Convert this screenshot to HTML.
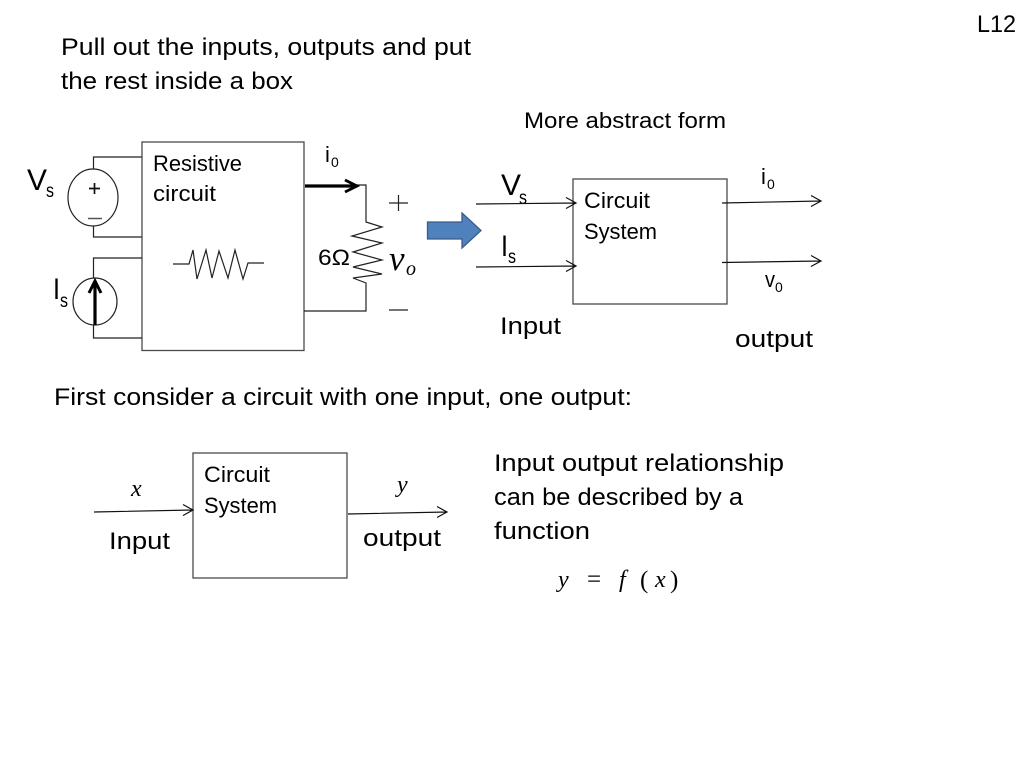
<!DOCTYPE html>
<html><head><meta charset="utf-8"><style>
html,body{margin:0;padding:0;background:#fff}
svg{display:block}
text{font-family:"Liberation Sans",sans-serif;fill:#000}
.m{font-family:"Liberation Serif",serif;font-style:italic}
.r{font-family:"Liberation Serif",serif}
</style></head><body>
<svg width="1024" height="768" viewBox="0 0 1024 768" xmlns="http://www.w3.org/2000/svg">
<rect width="1024" height="768" fill="#fff"/>
<!-- boxes -->
<g fill="#fff" stroke="#4a4a4a" stroke-width="1.300">
<rect x="142" y="142" width="162" height="208.500"/>
<rect x="573" y="179" width="154" height="125"/>
<rect x="193" y="453" width="154" height="125"/>
</g>
<g font-size="24.500">
<text x="977" y="32" textLength="39" lengthAdjust="spacingAndGlyphs">L12</text>
<text x="61" y="55" textLength="410" lengthAdjust="spacingAndGlyphs">Pull out the inputs, outputs and put</text>
<text x="61" y="89" textLength="232" lengthAdjust="spacingAndGlyphs">the rest inside a box</text>
<text x="54" y="405" textLength="578" lengthAdjust="spacingAndGlyphs">First consider a circuit with one input, one output:</text>
<text x="494" y="471" textLength="290" lengthAdjust="spacingAndGlyphs">Input output relationship</text>
<text x="494" y="505" textLength="249" lengthAdjust="spacingAndGlyphs">can be described by a</text>
<text x="494" y="539" textLength="96" lengthAdjust="spacingAndGlyphs">function</text>
<text x="500" y="334" textLength="61" lengthAdjust="spacingAndGlyphs">Input</text>
<text x="735" y="347" textLength="78" lengthAdjust="spacingAndGlyphs">output</text>
<text x="109" y="549" textLength="61" lengthAdjust="spacingAndGlyphs">Input</text>
<text x="363" y="546" textLength="78" lengthAdjust="spacingAndGlyphs">output</text>
</g>
<g font-size="22">
<text x="524" y="128" textLength="202" lengthAdjust="spacingAndGlyphs">More abstract form</text>
<text x="153" y="171" textLength="89" lengthAdjust="spacingAndGlyphs">Resistive</text>
<text x="153" y="201" textLength="63" lengthAdjust="spacingAndGlyphs">circuit</text>
<text x="584" y="208" textLength="66" lengthAdjust="spacingAndGlyphs">Circuit</text>
<text x="584" y="239" textLength="73" lengthAdjust="spacingAndGlyphs">System</text>
<text x="204" y="482" textLength="66" lengthAdjust="spacingAndGlyphs">Circuit</text>
<text x="204" y="513" textLength="73" lengthAdjust="spacingAndGlyphs">System</text>
<text x="318" y="265" textLength="32" lengthAdjust="spacingAndGlyphs">6Ω</text>
<text x="325" y="162">i</text><text x="331" y="167" font-size="14">0</text>
<text x="761" y="184">i</text><text x="767" y="189" font-size="14">0</text>
<text x="765" y="287" textLength="10" lengthAdjust="spacingAndGlyphs">v</text><text x="775" y="292" font-size="14">0</text>
</g>
<g font-size="30">
<text x="27" y="190" textLength="20" lengthAdjust="spacingAndGlyphs">V</text><text x="46" y="197" font-size="19" textLength="8" lengthAdjust="spacingAndGlyphs">s</text>
<text x="53" y="299" textLength="7" lengthAdjust="spacingAndGlyphs">I</text><text x="60" y="307" font-size="19" textLength="8" lengthAdjust="spacingAndGlyphs">s</text>
<text x="501" y="195" textLength="20" lengthAdjust="spacingAndGlyphs">V</text><text x="519" y="204" font-size="19" textLength="8" lengthAdjust="spacingAndGlyphs">s</text>
<text x="501" y="256" textLength="7" lengthAdjust="spacingAndGlyphs">I</text><text x="508" y="263" font-size="19" textLength="8" lengthAdjust="spacingAndGlyphs">s</text>
</g>
<!-- left wires -->
<g fill="none" stroke="#222" stroke-width="1.200">
<path d="M142 157H93.500V169M93.500 226V237H142"/>
<path d="M142 258H93.500V278M93.500 325V338H142"/>
<ellipse cx="93" cy="197.500" rx="25" ry="28.500"/>
<ellipse cx="95" cy="301.500" rx="22" ry="23.500"/>
<path d="M173 264H189L193 250L197 279L206 250L212 278L219 251L228 278L235 250L243 279L248 263H264"/>
<path d="M356 185H366V222L382 227L352 236L382 243L353 252L382 260L353 267L382 274L353 278L366 283V311H304"/>
</g>
<path d="M89 188.500H100M94.500 183V194" stroke="#111" stroke-width="1.700" fill="none"/>
<path d="M88 218.500H102" stroke="#555" stroke-width="1.500" fill="none"/>
<!-- thick arrows -->
<path d="M95 325V281" stroke="#000" stroke-width="3.200" fill="none"/>
<path d="M89 293L95 281L101 293" stroke="#000" stroke-width="3" fill="none"/>
<path d="M305 186H357" stroke="#000" stroke-width="3.200" fill="none"/>
<path d="M345 180L357 186L345 192" stroke="#000" stroke-width="2.800" fill="none"/>
<!-- plus minus -->
<path d="M389 203H408M398.500 195V211M389 310H408" stroke="#222" stroke-width="1.200" fill="none"/>
<text class="m" x="389" y="270" font-size="35">v</text>
<text class="m" x="406" y="275" font-size="20">o</text>
<!-- blue arrow -->
<path d="M427.500 222H462V213L481 230.500L462 248V239H427.500Z" fill="#4f81bd" stroke="#385d8a" stroke-width="1.300"/>
<!-- thin arrows -->
<g fill="none" stroke="#111" stroke-width="1.200">
<path d="M476 204L576 203M566 197.500L576 203L566 208.500"/>
<path d="M476 267L576 266M566 260.500L576 266L566 271.500"/>
<path d="M722 203L821 201M811 195.500L821 201L811 206.500"/>
<path d="M722 262.500L821 261M811 255.500L821 261L811 266.500"/>
<path d="M94 512L193 510M183 504.500L193 510L183 515.500"/>
<path d="M348 514L447 512M437 506.500L447 512L437 517.500"/>
</g>
<!-- math -->
<text class="m" x="131" y="496" font-size="24">x</text>
<text class="m" x="397" y="492" font-size="24">y</text>
<text class="m" x="558" y="587" font-size="24">y</text>
<text class="r" x="587" y="587" font-size="25">=</text>
<text class="m" x="619" y="587" font-size="24">f</text>
<text class="r" x="640" y="588" font-size="25">(</text>
<text class="m" x="655" y="587" font-size="24">x</text>
<text class="r" x="670" y="588" font-size="25">)</text>
</svg>
</body></html>
